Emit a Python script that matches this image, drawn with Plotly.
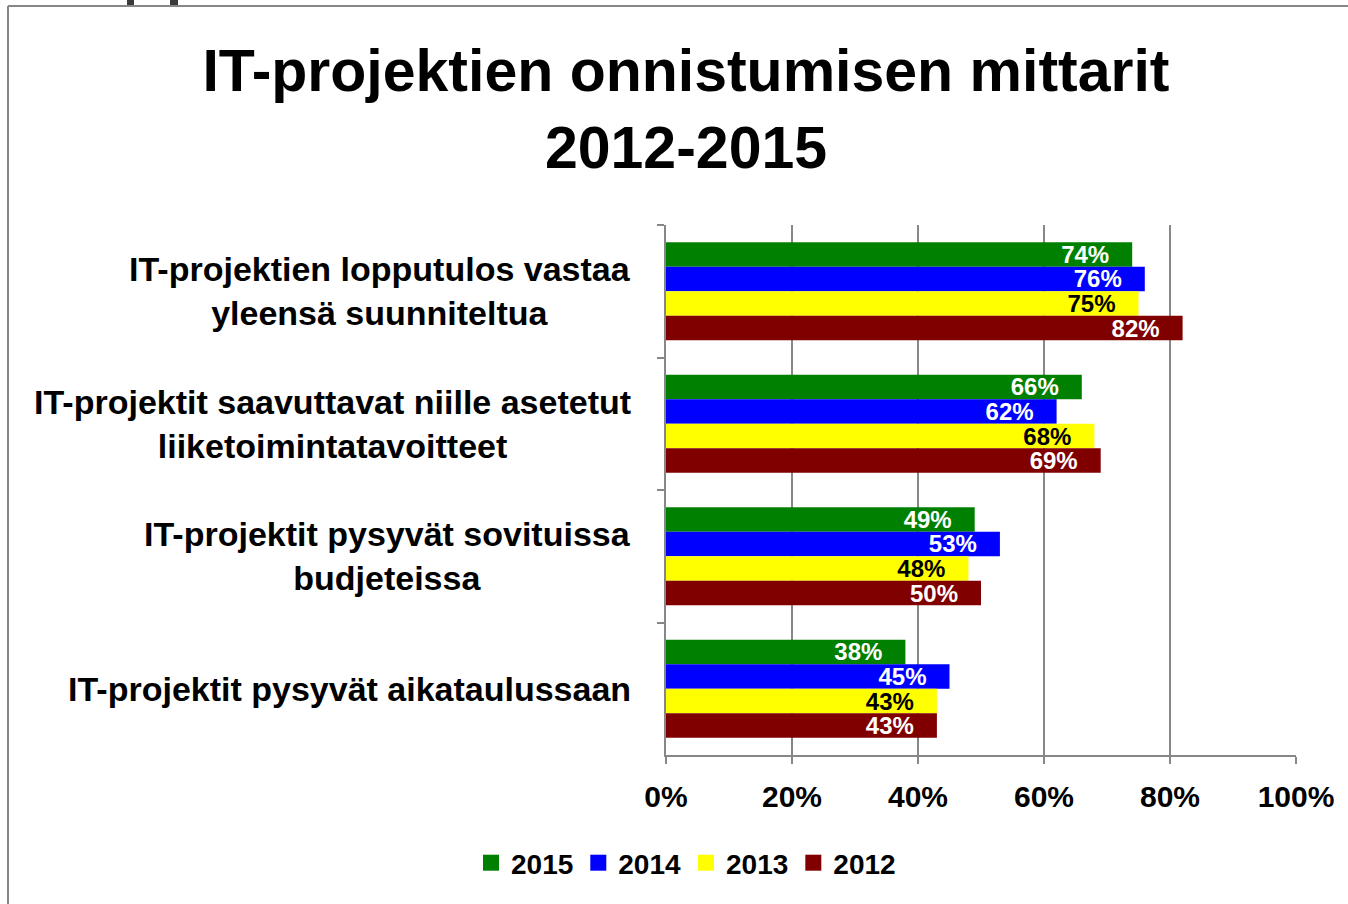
import plotly.graph_objects as go

categories = [
    "IT-projektien lopputulos vastaa<br>yleensä suunniteltua",
    "IT-projektit saavuttavat niille asetetut<br>liiketoimintatavoitteet",
    "IT-projektit pysyvät sovituissa<br>budjeteissa",
    "IT-projektit pysyvät aikataulussaan",
]
years = ["2015", "2014", "2013", "2012"]
values_2015 = [74, 66, 49, 38]
values_2014 = [76, 62, 53, 45]
values_2013 = [75, 68, 48, 43]
values_2012 = [82, 69, 50, 43]
series = [values_2015, values_2014, values_2013, values_2012]
colors = ["#008000", "#0000FF", "#FFFF00", "#800000"]
label_colors = ["white", "white", "black", "white"]
x_ticks = [0, 20, 40, 60, 80, 100]
x_tick_labels = ["0%", "20%", "40%", "60%", "80%", "100%"]

W, H = 1348, 904
L, R, T, B = 666, 52, 225, 149
PW, PH = W - L - R, H - T - B
FONT = "Liberation Sans, Arial, sans-serif"
GRAY = "#878787"

fig = go.Figure()
for yr, vals, col, lc in zip(years, series, colors, label_colors):
    fig.add_trace(go.Bar(
        y=categories, x=vals, orientation="h", name=yr,
        marker=dict(color=col, line=dict(width=0)),
        text=[f"{v}%\u00a0\u00a0\u00a0" for v in vals],
        textposition="inside", insidetextanchor="end", textangle=0,
        constraintext="none",
        textfont=dict(family=FONT, size=24, color=lc, weight="bold"),
        showlegend=False, hoverinfo="skip",
    ))
for yr, col in zip(years, colors):
    fig.add_trace(go.Scatter(
        x=[None], y=[None], mode="markers", name=yr,
        marker=dict(symbol="square", size=16, color=col),
    ))

annotations = []
for c in categories:
    annotations.append(dict(
        x=-33 / PW, xref="paper", y=c, yref="y", text=c, showarrow=False,
        xanchor="right", yanchor="middle", align="center",
        font=dict(family=FONT, size=34, color="black", weight="bold"),
    ))

def px_x(p):
    return (p - L) / PW

def px_y(p):
    return 1 - (p - T) / PH

shapes = [
    dict(type="line", xref="paper", yref="paper", x0=px_x(8), x1=px_x(8),
         y0=px_y(6), y1=px_y(904), line=dict(color=GRAY, width=2)),
    dict(type="line", xref="paper", yref="paper", x0=px_x(8), x1=px_x(1348),
         y0=px_y(6), y1=px_y(6), line=dict(color=GRAY, width=2)),
    dict(type="rect", xref="paper", yref="paper", x0=px_x(127), x1=px_x(134),
         y0=px_y(0), y1=px_y(5), fillcolor="#3a3a3a", line=dict(width=0)),
    dict(type="rect", xref="paper", yref="paper", x0=px_x(170), x1=px_x(178),
         y0=px_y(0), y1=px_y(5), fillcolor="#3a3a3a", line=dict(width=0)),
]

fig.update_layout(
    width=W, height=H,
    margin=dict(l=L, r=R, t=T, b=B, autoexpand=False),
    paper_bgcolor="white", plot_bgcolor="white",
    barmode="group", bargap=0.26, bargroupgap=0,
    title=dict(
        text="IT-projektien onnistumisen mittarit<br>2012-2015",
        x=686 / W, xref="container", xanchor="center",
        y=1 - 91 / H, yref="container", yanchor="top",
        font=dict(family=FONT, size=59, color="black", weight="bold"),
    ),
    xaxis=dict(
        range=[0, 100], tickvals=x_ticks, ticktext=x_tick_labels,
        showgrid=True, gridcolor=GRAY, gridwidth=2,
        showline=True, linecolor=GRAY, linewidth=2,
        ticks="outside", ticklen=7, tickcolor=GRAY, tickwidth=2,
        ticklabelstandoff=7,
        tickfont=dict(family=FONT, size=30, color="black", weight="bold"),
        zeroline=False, fixedrange=True,
    ),
    yaxis=dict(
        autorange="reversed", showticklabels=False,
        showline=True, linecolor=GRAY, linewidth=2,
        ticks="outside", ticklen=7, tickcolor=GRAY, tickwidth=2,
        tickson="boundaries", showgrid=False, zeroline=False,
        fixedrange=True,
    ),
    legend=dict(
        orientation="h", xref="container", yref="container",
        x=686 / W, xanchor="center", y=1 - 863 / H, yanchor="middle",
        font=dict(family=FONT, size=28, color="black", weight="bold"),
        itemwidth=30, tracegroupgap=0,
    ),
    annotations=annotations,
    shapes=shapes,
)

fig.write_html(
    "out.html",
    config={"displayModeBar": False},
    post_script="document.body.style.margin='0';document.body.style.padding='0';",
)
